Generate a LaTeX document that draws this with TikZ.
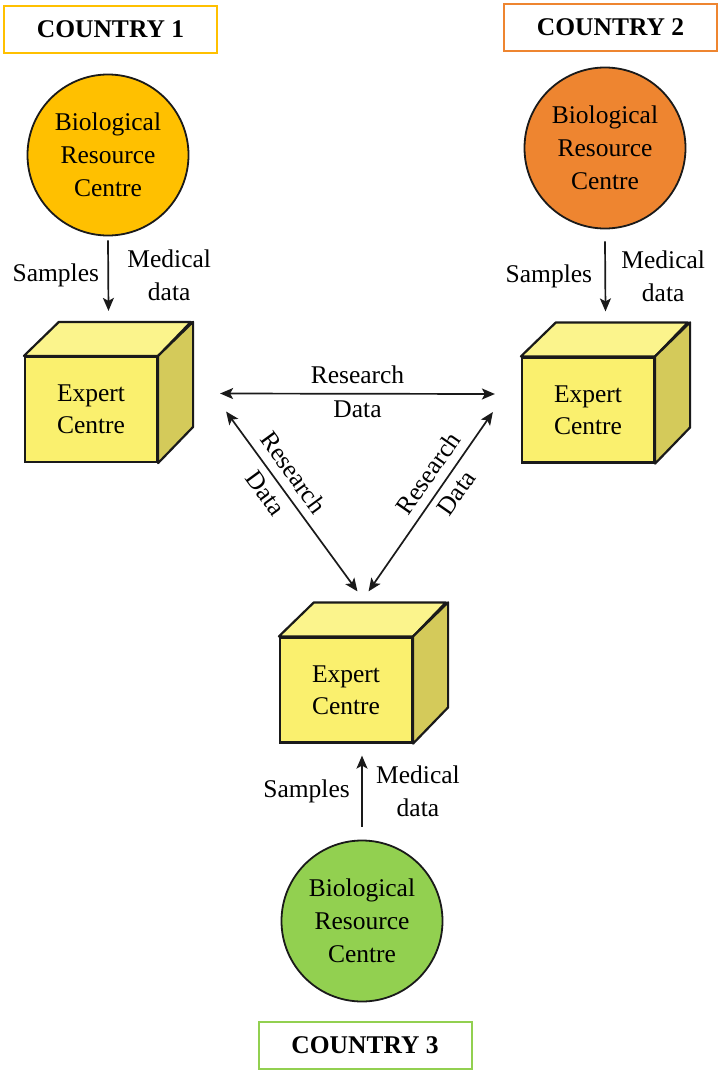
\documentclass[tikz,border=0pt]{standalone}
\usepackage{fontspec}
\setmainfont{Liberation Serif}
\usetikzlibrary{arrows.meta,calc}
\definecolor{cgold}{HTML}{FFC000}
\definecolor{corange}{HTML}{EE8530}
\definecolor{cgreen}{HTML}{92D050}
\definecolor{cfront}{HTML}{FAF06E}
\definecolor{ctop}{HTML}{FBF48C}
\definecolor{cside}{HTML}{D4CA5A}
\definecolor{cline}{HTML}{1A1A1A}
\tikzset{
  txt/.style={font=\fontsize{25.5}{33}\selectfont},
  pair/.style={align=center, inner sep=0pt, font=\fontsize{25.5}{34}\selectfont},
  country/.style={draw=#1, line width=2pt, minimum width=213pt, minimum height=47pt,
    inner sep=0pt, font=\fontsize{25.5}{30}\selectfont\bfseries},
  brc/.style={circle, draw=cline, line width=1.8pt, fill=#1, minimum size=161pt, inner sep=0pt,
    align=center, font=\fontsize{25.5}{33}\selectfont},
  front/.style={draw=cline, line width=2.2pt, fill=cfront, minimum width=132pt, minimum height=105pt,
    inner sep=0pt, align=center, font=\fontsize{25.5}{32}\selectfont},
  facetop/.style={draw=cline, line width=2.2pt, fill=ctop, line join=round},
  faceside/.style={draw=cline, line width=2.2pt, fill=cside, line join=round},
  tip/.style={Stealth[length=13pt,width=11pt,inset=3pt]},
  arr/.style={line width=1.7pt, draw=cline, -{Stealth[length=13pt,width=11pt,inset=3pt]}},
  darr/.style={line width=1.7pt, draw=cline, {Stealth[length=13pt,width=11pt,inset=3pt]}-{Stealth[length=13pt,width=11pt,inset=3pt]}},
}
\newcommand{\cubefaces}[1]{%
  \path[facetop] (#1.north west) -- ++(35,-34) -- ++(132,0) -- ($(#1.north east)$) -- cycle;
  \path[faceside] (#1.north east) -- ++(35,-34) -- ++(0,105) -- (#1.south east) -- cycle;
  \coordinate (#1top) at ($(#1.north)+(17.5,-34)$);
}
\begin{document}
\begin{tikzpicture}[x=1pt,y=-1pt]
\useasboundingbox (0,0) rectangle (722,1073);

% country labels
\node[country=cgold]   (k1) at (110.5,29.5) {COUNTRY 1};
\node[country=corange] (k2) at (610.5,27.5) {COUNTRY 2};
\node[country=cgreen]  (k3) at (365,1045)   {COUNTRY 3};

% biological resource centres
\node[brc=cgold]   (b1) at (108,155) {Biological\\Resource\\Centre};
\node[brc=corange] (b2) at (605,148) {Biological\\Resource\\Centre};
\node[brc=cgreen]  (b3) at (362,921) {Biological\\Resource\\Centre};

% expert centres (cubes)
\node[front] (e1) at (91,409.5) {Expert\\Centre};
\cubefaces{e1}
\node[front] (e2) at (588,410) {Expert\\Centre};
\cubefaces{e2}
\node[front] (e3) at (346,690) {Expert\\Centre};
\cubefaces{e3}

% vertical sample arrows
\draw[arr] ([yshift=-4pt]b1.south) -- ([yshift=11pt]e1top)
  node[midway, left=5pt, txt] {Samples}
  node[midway, right=15pt, txt, align=center] {Medical\\data};
\draw[arr] ([yshift=-12pt]b2.south) -- ([yshift=11pt]e2top)
  node[midway, left=9pt, txt] {Samples}
  node[midway, right=12pt, txt, align=center] {Medical\\data};
\draw[arr] ([yshift=13pt]b3.north) -- ([yshift=-12pt]e3.south -| b3.north)
  node[midway, left=8pt, txt] {Samples}
  node[midway, right=10pt, txt, align=center] {Medical\\data};

% research data exchanges
\coordinate (h1) at ($(e1.east)+(62,-16)$);
\coordinate (h2) at ($(e2.west)+(-26,-16)$);
\coordinate (d1) at ($(e1.east)+(68,2)$);
\coordinate (d2) at ($(e2.west)+(-28,2)$);
\coordinate (t1) at ($(e3top)+(-6,-11)$);
\coordinate (t2) at ($(e3top)+(5,-11)$);
\draw[darr] (h1) -- (h2)
  node[midway, yshift=1.5pt, pair] {Research\\Data};
\draw[darr] (d1) -- (t1)
  node[pos=0.4, sloped, yshift=1.5pt, pair] {Research\\Data};
\draw[darr] (t2) -- (d2)
  node[pos=0.6, sloped, yshift=1.5pt, pair] {Research\\Data};
\end{tikzpicture}
\end{document}
